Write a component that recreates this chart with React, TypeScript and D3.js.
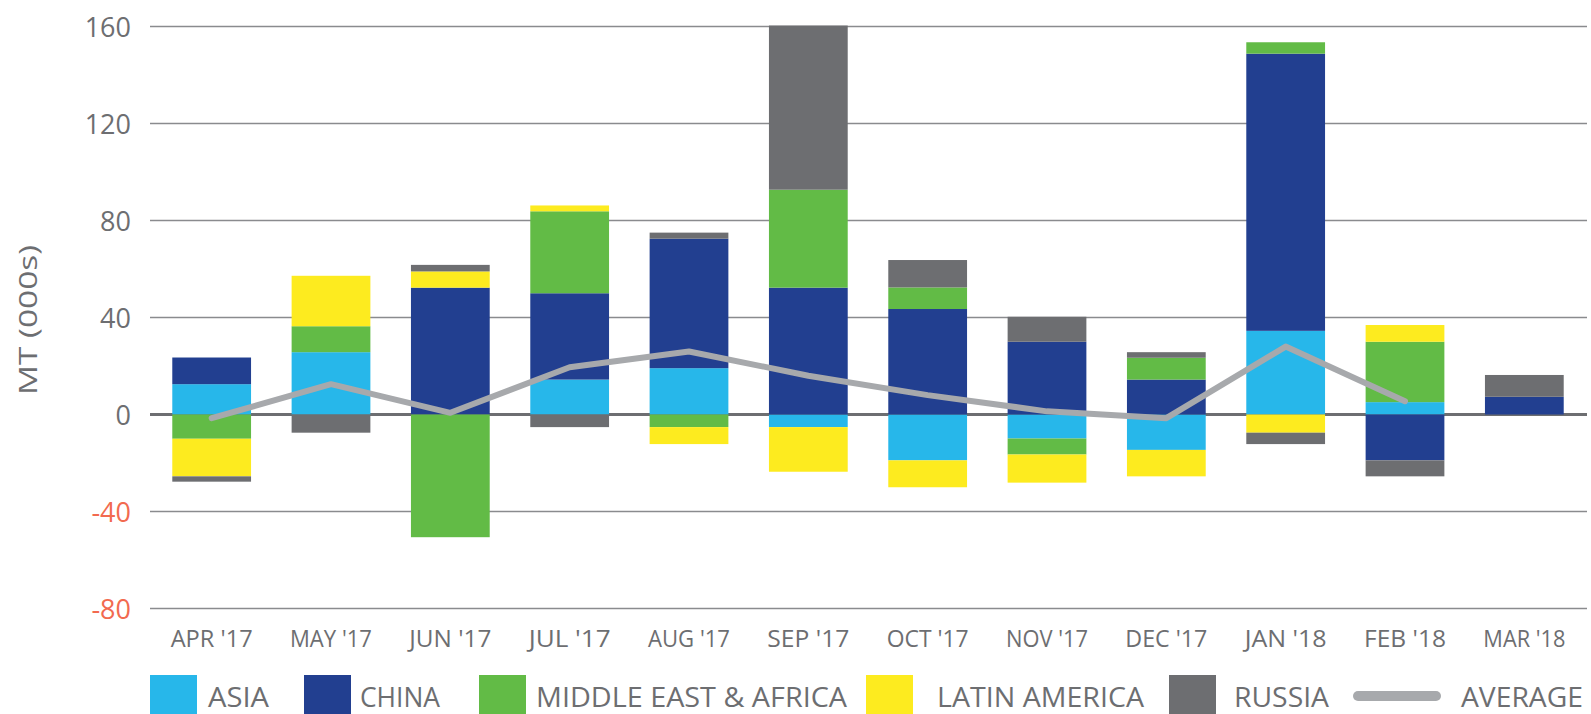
import React from "react";
import * as d3 from "d3";

const months = ["APR '17", "MAY '17", "JUN '17", "JUL '17", "AUG '17", "SEP '17", "OCT '17", "NOV '17", "DEC '17", "JAN '18", "FEB '18", "MAR '18"];
const asia = [12.5, 25.7, 0, 14.4, 19.1, -5.2, -18.9, -9.9, -14.6, 34.5, 5.1, 0];
const china = [11, 0, 52.3, 35.6, 53.4, 52.3, 43.5, 30, 14.4, 114.3, -18.9, 7.3];
const mea = [-10, 10.7, -50.6, 33.8, -5.2, 40.4, 8.9, -6.6, 9, 4.7, 24.9, 0];
const latam = [-15.5, 20.8, 6.7, 2.4, -7, -18.4, -11.1, -11.6, -10.9, -7.5, 6.9, 0];
const russia = [-2.2, -7.5, 2.7, -5.2, 2.5, 67.7, 11.3, 10.3, 2.3, -4.7, -6.6, 9];
const average = [-1.5, 12.5, 0.7, 19.5, 26, 16, 8, 1.3, -1.5, 28, 5.5];
const yTicks = [160, 120, 80, 40, 0, -40, -80];

const seriesKeys = ["asia", "china", "mea", "latam", "russia"];
const seriesValues: Record<string, number[]> = { asia, china, mea, latam, russia };
const colors: Record<string, string> = {
  asia: "#27b7ea",
  china: "#223f90",
  mea: "#62bb46",
  latam: "#fdeb1f",
  russia: "#6d6e71",
};

// legend entries: label, left of swatch, left of text, text width
const legendItems = [
  { key: "asia", label: "ASIA", x: 150, tx: 208, tw: 61 },
  { key: "china", label: "CHINA", x: 304, tx: 360, tw: 80 },
  { key: "mea", label: "MIDDLE EAST & AFRICA", x: 479, tx: 536, tw: 311 },
  { key: "latam", label: "LATIN AMERICA", x: 866, tx: 937, tw: 207 },
  { key: "russia", label: "RUSSIA", x: 1169, tx: 1234, tw: 95 },
];

export default function App() {
  const width = 1591;
  const height = 714;
  const left = 150;
  const right = 1587;

  const rows = months.map((m, i) => {
    const r: any = { month: m };
    seriesKeys.forEach((k) => (r[k] = seriesValues[k][i]));
    return r;
  });

  const stacked = d3.stack().keys(seriesKeys).offset(d3.stackOffsetDiverging)(rows);

  const x = d3.scaleBand().domain(months).range([152, 1584]).paddingInner(0.34).paddingOuter(0.17);
  const y = d3.scaleLinear().domain([-80, 160]).range([608.5, 26.5]);

  const line = d3
    .line<number>()
    .x((_, i) => (x(months[i]) as number) + x.bandwidth() / 2)
    .y((d) => y(d));

  const font = "'Open Sans', sans-serif";

  return (
    <svg width={width} height={height} style={{ position: "absolute", left: 0, top: 0, background: "#fff" }}>
      {/* grid */}
      {yTicks.map((t) => (
        <g key={t}>
          <line
            x1={left}
            x2={right}
            y1={y(t)}
            y2={y(t)}
            stroke={t === 0 ? "#6d6e71" : "#8a8b8e"}
            strokeWidth={t === 0 ? 3 : 1.5}
          />
          <text
            x={131}
            y={y(t) + 10}
            textAnchor="end"
            fontFamily={font}
            fontSize={27}
            fill={t < 0 ? "#f26a4f" : "#6d6e71"}
          >
            {t}
          </text>
        </g>
      ))}

      {/* bars */}
      {stacked.map((s) => (
        <g key={s.key} fill={colors[s.key]}>
          {s.map((d, i) => {
            const y0 = y(Math.max(d[0], d[1]));
            const y1 = y(Math.min(d[0], d[1]));
            if (y1 - y0 < 0.01) return null;
            return <rect key={i} x={x(months[i])} width={x.bandwidth()} y={y0} height={y1 - y0} />;
          })}
        </g>
      ))}

      {/* average */}
      <path
        d={line(average) as string}
        fill="none"
        stroke="#a7a9ac"
        strokeWidth={6}
        strokeLinejoin="round"
        strokeLinecap="round"
      />

      {/* x labels */}
      {months.map((m) => (
        <text
          key={m}
          x={(x(m) as number) + x.bandwidth() / 2}
          y={647}
          textAnchor="middle"
          fontFamily={font}
          fontSize={24}
          fill="#6d6e71"
          textLength={82}
          lengthAdjust="spacingAndGlyphs"
        >
          {m}
        </text>
      ))}

      {/* y title */}
      <text
        transform="translate(37,320) rotate(-90)"
        textAnchor="middle"
        fontFamily={font}
        fontSize={26}
        fill="#6d6e71"
        textLength={150}
        lengthAdjust="spacingAndGlyphs"
      >
        MT (000s)
      </text>

      {/* legend */}
      {legendItems.map((l) => (
        <g key={l.key}>
          <rect x={l.x} y={675} width={47} height={39} fill={colors[l.key]} />
          <text
            x={l.tx}
            y={707}
            fontFamily={font}
            fontSize={28}
            fill="#6d6e71"
            textLength={l.tw}
            lengthAdjust="spacingAndGlyphs"
          >
            {l.label}
          </text>
        </g>
      ))}
      <line x1={1358} x2={1436} y1={696} y2={696} stroke="#a7a9ac" strokeWidth={10} strokeLinecap="round" />
      <text
        x={1461}
        y={707}
        fontFamily={font}
        fontSize={28}
        fill="#6d6e71"
        textLength={122}
        lengthAdjust="spacingAndGlyphs"
      >
        AVERAGE
      </text>
    </svg>
  );
}
